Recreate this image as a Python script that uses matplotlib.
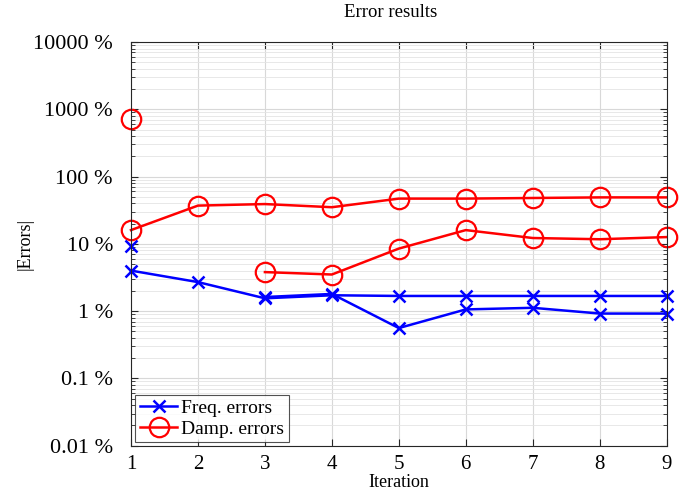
# -*- coding: utf-8 -*-
# Error results: frequency and damping errors per iteration (log scale)
import matplotlib
matplotlib.use("Agg")
import matplotlib.pyplot as plt
from matplotlib.ticker import FixedLocator, LogLocator, NullFormatter

plt.rcParams['font.family'] = ['Liberation Serif', 'DejaVu Serif']

# -- DATA (values in %) --
iterations = [1, 2, 3, 4, 5, 6, 7, 8, 9]
freq_mode1 = [4.0, 2.7, 1.55, 1.72, 1.68, 1.68, 1.68, 1.68, 1.68]
iter_late = [3, 4, 5, 6, 7, 8, 9]
freq_mode2 = [1.62, 1.8, 0.56, 1.06, 1.12, 0.92, 0.92]
freq_first = [9.3]

damp_mode1 = [16, 37, 39, 35, 47, 47, 48, 49, 49]
damp_mode2 = [3.8, 3.5, 8.5, 16, 12.2, 11.7, 12.6]
damp_first = [710]

ytick_vals = [0.01, 0.1, 1, 10, 100, 1000, 10000]
ytick_labels = ['0.01 %', '0.1 %', '1 %', '10 %', '100 %', '1000 %', '10000 %']

fig = plt.figure(figsize=(6.88, 4.91), dpi=100)
ax = fig.add_axes([0.1904, 0.0923, 0.7786, 0.8222])

azul = dict(color='blue', marker='x', markersize=9, markeredgewidth=1.8,
            linewidth=1.8, clip_on=False)
rojo = dict(color='red', marker='o', markersize=14, markerfacecolor='none',
            markeredgewidth=1.6, linewidth=1.8, clip_on=False)

ax.plot(iterations, freq_mode1, label='Freq. errors', **azul)
ax.plot(iter_late, freq_mode2, **azul)
ax.plot([1], freq_first, **azul)
ax.plot(iterations, damp_mode1, label='Damp. errors', **rojo)
ax.plot(iter_late, damp_mode2, **rojo)
ax.plot([1], damp_first, **rojo)

ax.set_yscale('log')
ax.set_ylim(0.01, 10000)
ax.set_xlim(1, 9)
ax.set_xticks(iterations)
ax.yaxis.set_major_locator(FixedLocator(ytick_vals))
ax.set_yticklabels(ytick_labels)
ax.yaxis.set_minor_locator(LogLocator(base=10, subs=range(2, 10), numticks=20))
ax.yaxis.set_minor_formatter(NullFormatter())

ax.grid(which='major', color='#d8d8d8', linewidth=0.8)
ax.grid(which='minor', axis='y', color='#e4e4e4', linewidth=0.6)
ax.set_axisbelow(True)

ax.tick_params(which='both', direction='in', top=True, right=True, colors='#262626')
ax.tick_params(which='major', length=5)
ax.tick_params(which='minor', length=3)
ax.tick_params(axis='y', labelsize=16, pad=13, labelcolor='black')
ax.tick_params(axis='x', labelsize=15, pad=7, labelcolor='black')
for s in ax.spines.values():
    s.set_color('#262626')
    s.set_linewidth(0.8)

ax.set_title('Error results', fontsize=13.5, pad=18, x=0.485)
ax.set_xlabel('Iteration', fontsize=13, labelpad=0)
ax.set_ylabel('|Errors|', fontsize=13, labelpad=0)

leg = ax.legend(loc='lower left', bbox_to_anchor=(0.008, 0.008), fontsize=14,
                fancybox=False, edgecolor='#262626', handlelength=1.9,
                borderaxespad=0.0, borderpad=0.25, labelspacing=0.15,
                handletextpad=0.2)
leg.get_frame().set_linewidth(0.8)

fig.savefig('out.png', dpi=100)
